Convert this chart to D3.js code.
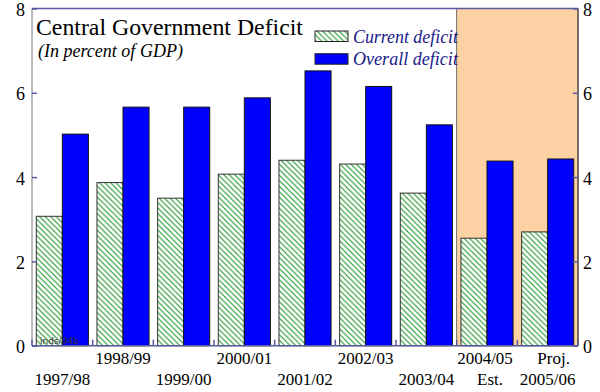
<!DOCTYPE html>
<html>
<head>
<meta charset="utf-8">
<script src="https://cdn.jsdelivr.net/npm/d3@7/dist/d3.min.js"></script>
<style>
  html, body { margin: 0; padding: 0; background: #fff; }
  svg { display: block; }
</style>
</head>
<body>
<svg id="chart" width="600" height="392"></svg>
<script>
// Fiscal years and deficit figures (percent of GDP)
const years = ["1997/98", "1998/99", "1999/00", "2000/01", "2001/02", "2002/03", "2003/04", "2004/05", "2005/06"];
const currentDeficit = [3.07, 3.87, 3.50, 4.07, 4.40, 4.31, 3.62, 2.55, 2.70];
const overallDeficit = [5.02, 5.66, 5.66, 5.88, 6.52, 6.15, 5.24, 4.38, 4.43];
const yTicks = [0, 2, 4, 6, 8];
// Notes placed with some year labels (estimate / projection)
const notesBelow = { "2004/05": "Est." };
const notesAbove = { "2005/06": "Proj." };
// Years that fall in the shaded estimate/projection band
const shadedYears = ["2004/05", "2005/06"];

(function draw() {
  const svg = d3.select("#chart");
  const pLeft = 32, pRight = 578, pTop = 8.5, pBottom = 345.7;
  const serif = "'Liberation Serif', 'Times New Roman', serif";
  const axisColor = "#5a5aa0";

  // Scale a text element's font size so it spans the given width
  function fitWidth(sel, width) {
    const node = sel.node();
    const fs = parseFloat(sel.attr("font-size"));
    const w = node.getComputedTextLength();
    if (w > 0) sel.attr("font-size", (fs * width / w).toFixed(2));
    return sel;
  }

  const x = d3.scaleBand().domain(years).range([pLeft, pRight]).paddingInner(0).paddingOuter(0);
  const inner = d3.scaleBand().domain(["current", "overall"]).range([0, x.bandwidth()])
    .paddingInner(0).paddingOuter(0.165).align(0.5);
  const y = d3.scaleLinear().domain([0, 8]).range([pBottom, pTop]);

  // Hatch pattern for the current deficit bars
  const defs = svg.append("defs");
  const pat = defs.append("pattern")
    .attr("id", "hatch").attr("patternUnits", "userSpaceOnUse")
    .attr("width", 5.5).attr("height", 5.5);
  pat.append("rect").attr("width", 5.5).attr("height", 5.5).attr("fill", "#fff");
  pat.append("path").attr("d", "M-1,-1 L6.5,6.5 M-1,4.5 L1,6.5 M4.5,-1 L6.5,1")
    .attr("stroke", "#10901a").attr("stroke-width", 1);

  // Shaded band for estimate and projection years
  const shadeX0 = x(shadedYears[0]);
  svg.append("rect")
    .attr("x", shadeX0).attr("y", y(8))
    .attr("width", pRight - shadeX0).attr("height", y(0) - y(8))
    .attr("fill", "#fcd1a3").attr("stroke", "#555").attr("stroke-width", 0.8);

  // Bars
  const groups = svg.append("g").selectAll("g").data(years).join("g")
    .attr("transform", d => `translate(${x(d)},0)`);

  groups.append("rect")
    .attr("x", inner("current")).attr("width", inner.bandwidth())
    .attr("y", (d, i) => y(currentDeficit[i]))
    .attr("height", (d, i) => y(0) - y(currentDeficit[i]))
    .attr("fill", "url(#hatch)").attr("stroke", "#333").attr("stroke-width", 1);

  groups.append("rect")
    .attr("x", inner("overall")).attr("width", inner.bandwidth())
    .attr("y", (d, i) => y(overallDeficit[i]))
    .attr("height", (d, i) => y(0) - y(overallDeficit[i]))
    .attr("fill", "#0000ff").attr("stroke", "#111").attr("stroke-width", 1);

  // Frame lines
  svg.append("line").attr("x1", pLeft).attr("x2", pRight).attr("y1", pTop).attr("y2", pTop)
    .attr("stroke", axisColor).attr("stroke-width", 1.5);
  svg.append("line").attr("x1", pLeft).attr("x2", pRight).attr("y1", pBottom).attr("y2", pBottom)
    .attr("stroke", axisColor).attr("stroke-width", 1.5);
  svg.append("line").attr("x1", pLeft).attr("x2", pLeft).attr("y1", pTop).attr("y2", pBottom)
    .attr("stroke", "#777").attr("stroke-width", 1);
  svg.append("line").attr("x1", pRight).attr("x2", pRight).attr("y1", pTop).attr("y2", pBottom)
    .attr("stroke", "#333").attr("stroke-width", 1);

  // Y axes (ticks point inward)
  const yLeft = svg.append("g").attr("transform", `translate(${pLeft},0)`)
    .call(d3.axisRight(y).tickValues(yTicks).tickSize(5).tickFormat(""));
  const yRight = svg.append("g").attr("transform", `translate(${pRight},0)`)
    .call(d3.axisLeft(y).tickValues(yTicks).tickSize(5).tickFormat(""));
  [yLeft, yRight].forEach(g => {
    g.select(".domain").remove();
    g.selectAll(".tick line").attr("stroke", axisColor).attr("stroke-width", 1.5);
  });

  svg.append("g").selectAll("text").data(yTicks).join("text")
    .attr("x", pLeft - 7).attr("y", d => y(d) + 7.5)
    .attr("text-anchor", "end")
    .attr("font-family", serif).attr("font-size", 18).attr("fill", "#000")
    .text(d => d);
  svg.append("g").selectAll("text").data(yTicks).join("text")
    .attr("x", pRight + 5).attr("y", d => y(d) + 7.5)
    .attr("text-anchor", "start")
    .attr("font-family", serif).attr("font-size", 18).attr("fill", "#000")
    .text(d => d);

  // Bottom ticks at group boundaries, pointing up
  const bounds = years.map(d => x(d)).concat([pRight]);
  svg.append("g").selectAll("line").data(bounds).join("line")
    .attr("x1", d => d).attr("x2", d => d)
    .attr("y1", pBottom).attr("y2", pBottom - 6)
    .attr("stroke", axisColor).attr("stroke-width", 1.5);

  // Staggered year labels
  const xl = svg.append("g").attr("font-family", serif).attr("font-size", 17)
    .attr("fill", "#000").attr("text-anchor", "middle");
  years.forEach((d, i) => {
    const cx = x(d) + x.bandwidth() / 2;
    if (notesAbove[d]) {
      xl.append("text").attr("x", cx + 6).attr("y", 364).text(notesAbove[d]);
      xl.append("text").attr("x", cx).attr("y", 384.5).text(d);
    } else if (i % 2 === 1) {
      xl.append("text").attr("x", cx - (notesBelow[d] ? 2 : 0)).attr("y", 364).text(d);
      if (notesBelow[d]) xl.append("text").attr("x", cx + 3).attr("y", 385).text(notesBelow[d]);
    } else {
      xl.append("text").attr("x", cx).attr("y", 384.5).text(d);
    }
  });

  // Title and subtitle
  fitWidth(svg.append("text").attr("x", 36).attr("y", 35)
    .attr("font-family", serif).attr("font-size", 24).attr("fill", "#000")
    .text("Central Government Deficit"), 267);
  fitWidth(svg.append("text").attr("x", 38).attr("y", 57)
    .attr("font-family", serif).attr("font-size", 18).attr("font-style", "italic").attr("fill", "#000")
    .text("(In percent of GDP)"), 145);

  // Legend
  const legend = [
    { label: "Current deficit", fill: "url(#hatch)", y: 31 },
    { label: "Overall deficit", fill: "#0000ff", y: 53.7 }
  ];
  const lg = svg.append("g");
  lg.selectAll("rect").data(legend).join("rect")
    .attr("x", 315).attr("y", d => d.y).attr("width", 33).attr("height", 10.5)
    .attr("fill", d => d.fill).attr("stroke", "#222").attr("stroke-width", 1);
  lg.selectAll("text").data(legend).join("text")
    .attr("x", 353).attr("y", d => d.y + 11.5)
    .attr("font-family", serif).attr("font-size", 20).attr("font-style", "italic")
    .attr("fill", "#1a1a8a")
    .text(d => d.label)
    .each(function () { fitWidth(d3.select(this), 105); });

  // Source tag
  svg.append("text").attr("x", 40).attr("y", 343.5)
    .attr("font-family", "'DejaVu Sans', sans-serif").attr("font-size", 9).attr("fill", "#333")
    .text("inds/94b");
})();
</script>
</body>
</html>
